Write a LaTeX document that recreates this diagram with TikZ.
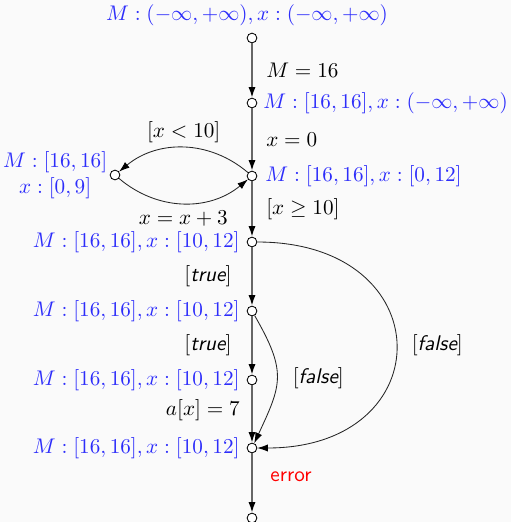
\documentclass[tikz,border=0pt]{standalone}
\usepackage{amsmath,amssymb}
\usepackage{tikz}
\usetikzlibrary{arrows.meta,positioning}
\definecolor{valblue}{RGB}{45,45,250}

\begin{document}
\begin{tikzpicture}[x=0.0166cm,y=-0.0166cm,>={Latex[length=5pt,width=3.4pt,color=black]},
  state/.style={circle,draw,fill=white,inner sep=0pt,minimum size=4.6pt},
  lbl/.style={text=valblue},
  flow/.style={->,draw=black!60,thick},
  jump/.style={->,draw=black!85}]
\fill[black!2] (0,0) rectangle (511,522);
\useasboundingbox (0,0) rectangle (511,522);
\node[state] (n0) at (252,38) {};
\node[state] (n1) at (252,103) {};
\node[state] (n2) at (252,176) {};
\node[state] (lp) at (115,175) {};
\node[state] (n3) at (252,242) {};
\node[state] (n4) at (252,311) {};
\node[state] (n5) at (252,380) {};
\node[state] (n6) at (252,448) {};
\node[state] (n7) at (252,518) {};
% abstract values
\node[lbl] (t0) at (247,15) {$M:(-\infty,+\infty),x:(-\infty,+\infty)$};
\node[lbl,anchor=west] (t1) at (256,103) {$M:[16,16],x:(-\infty,+\infty)$};
\node[lbl,anchor=west] (t2) at (258,176) {$M:[16,16],x:[0,12]$};
\node[lbl,align=center,left=0pt of lp,inner sep=1pt] (tl) {$M:[16,16]$\\$x:[0,9]$};
\node[lbl,anchor=east] (t3) at (247,242) {$M:[16,16],x:[10,12]$};
\node[lbl,anchor=east] (t4) at (247,311) {$M:[16,16],x:[10,12]$};
\node[lbl,anchor=east] (t5) at (247,380) {$M:[16,16],x:[10,12]$};
\node[lbl,anchor=east] (t6) at (247,448) {$M:[16,16],x:[10,12]$};
% edges
\draw[flow] (n0) -- node[right,xshift=3pt] {$M=16$} (n1);
\draw[flow] (n1) -- node[right,xshift=3pt] {$x=0$} (n2);
\draw[flow] (n2) -- node[right,xshift=3pt] {$[x\geq 10]$} (n3);
\draw[flow] (n3) -- node[left,xshift=-6pt] {$[\text{\sffamily\itshape true}]$} (n4);
\draw[flow] (n4) -- node[left,xshift=-6pt] {$[\text{\sffamily\itshape true}]$} (n5);
\draw[flow] (n5) -- node[left,xshift=-2pt,yshift=2pt] {$a[x]=7$} (n6);
\draw[flow] (n6) -- node[right,xshift=5pt,yshift=3pt,text=red] {\sffamily error} (n7);
\draw[jump] (n2) to[bend right=40] node[above,yshift=-1pt] {$[x<10]$} (lp);
\draw[jump] (lp) to[bend right=40] node[below] {$x=x+3$} (n2);
\draw[jump] (n4) to[out=-60,in=65,looseness=1.3] node[right,xshift=4pt] {$[\text{\sffamily\itshape false}]$} (n6);
\draw[jump] (n3) to[out=0,in=0,looseness=2.3] node[right,xshift=4pt] {$[\text{\sffamily\itshape false}]$} (n6);
\end{tikzpicture}
\end{document}
